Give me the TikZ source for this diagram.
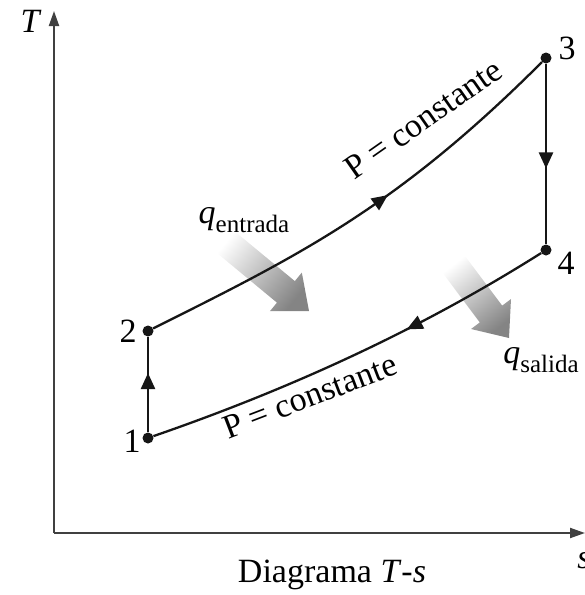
\documentclass[tikz,border=0pt]{standalone}
\usepackage{fontspec}
\setmainfont{Liberation Serif}
\usetikzlibrary{arrows.meta,calc,decorations.markings}
\definecolor{curveblack}{HTML}{161616}
\definecolor{axisgray}{HTML}{404040}
\definecolor{heatgray}{HTML}{848484}
\newcommand{\diagfont}{\fontsize{34}{38}\selectfont}
\newcommand{\qsub}[1]{\textit{q}\raisebox{-0.28em}{\fontsize{25}{27}\selectfont #1}}
\tikzset{
  statept/.style={circle, fill=curveblack, inner sep=0pt, minimum size=11pt},
  statelabel/.style={font=\diagfont, inner sep=0pt},
  process/.style={line width=2.3pt, color=curveblack},
  axisline/.style={line width=2pt, color=axisgray, -{Triangle[length=15pt,width=10pt]}},
  midarrow/.style={postaction={decorate}, decoration={markings,
      mark=at position #1 with {\arrow{Triangle[length=16pt,width=14pt]}}}},
  curvelabel/.style={font=\diagfont, inner sep=0pt},
}
% fat shaded heat arrow: tail, tip, shading angle
\newcommand{\heatarrow}[3]{%
  \path ($(#2)!30pt!(#1)$) coordinate (#1-neck);
  \shade[top color=heatgray, bottom color=white, shading angle=#3]
    ($(#1)!14pt!90:(#2)$) -- ($(#1-neck)!14pt!90:(#2)$)
    -- ($(#1-neck)!25pt!90:(#2)$) -- (#2)
    -- ($(#1-neck)!25pt!-90:(#2)$) -- ($(#1-neck)!14pt!-90:(#2)$)
    -- ($(#1)!14pt!-90:(#2)$) -- cycle;
}

\begin{document}
\begin{tikzpicture}[x=1pt, y=-1pt]
  \useasboundingbox (0,0) rectangle (585,595);

  % axes
  \coordinate (o) at (54,533);
  \coordinate (ttop) at (54,11);
  \coordinate (send) at (585,533);
  \draw[axisline] (o) -- (ttop);
  \draw[axisline] (o) -- (send);
  \node[statelabel, font=\diagfont\itshape] (tlab) at (30,21) {T};
  \node[statelabel, font=\diagfont\itshape] (slab) at (584,561) {s};

  % heat arrows
  \coordinate (qin-tail) at (222,239);
  \coordinate (qin-tip) at (309,311);
  \coordinate (qout-tail) at (452,262);
  \coordinate (qout-tip) at (509,338);
  \heatarrow{qin-tail}{qin-tip}{-129.5}
  \heatarrow{qout-tail}{qout-tip}{-141.5}

  % states
  \node[statept] (p1) at (148,438) {};
  \node[statept] (p2) at (148,331) {};
  \node[statept] (p3) at (546,58) {};
  \node[statept] (p4) at (546,250) {};
  \node[statelabel] (n1) at (132,441) {1};
  \node[statelabel] (n2) at (128,331) {2};
  \node[statelabel] (n3) at (567,48) {3};
  \node[statelabel] (n4) at (566,263) {4};

  % cycle
  \draw[process, midarrow=0.62] (p1) -- (p2);
  \draw[process, midarrow=0.57] (p2) .. controls (298,256) and (396,208) .. (p3);
  \draw[process, midarrow=0.58] (p3) -- (p4);
  \draw[process, midarrow=0.36] (p4) .. controls (413,334) and (281,392) .. (p1);

  % labels
  \node[curvelabel, rotate=35] (pup) at (423,119) {P = constante};
  \node[curvelabel, rotate=21] (plow) at (310,396) {P = constante};
  \node[statelabel] (qin) at (244,220) {\qsub{entrada}};
  \node[statelabel] (qout) at (541,360) {\qsub{salida}};
  \node[statelabel] (title) at (332,575) {Diagrama \textit{T}-\textit{s}};
\end{tikzpicture}
\end{document}
